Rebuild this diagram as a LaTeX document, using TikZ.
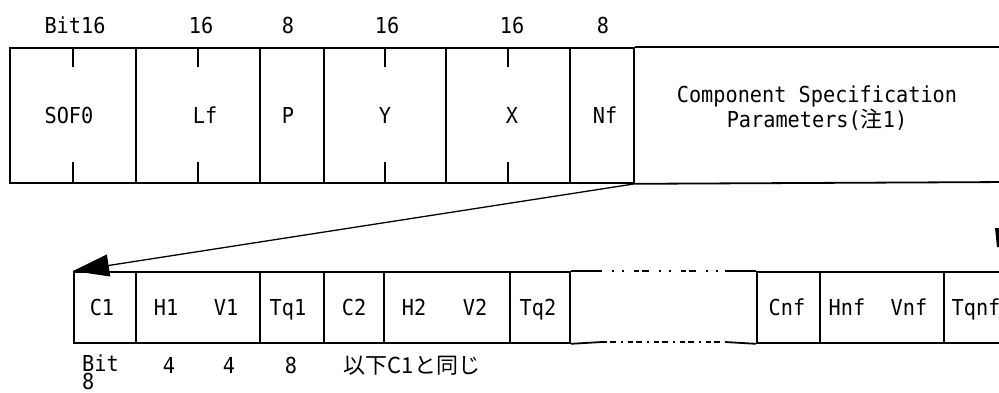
\documentclass[tikz,border=0pt]{standalone}
\usepackage{fontspec}
\setmainfont{DejaVu Sans Mono}[FakeStretch=0.92]
\newfontfamily\jp{Noto Sans CJK JP}
\usetikzlibrary{arrows.meta}
\tikzset{
  rowline/.style={line width=1.8pt},
  topcell/.style={draw, line width=1.8pt, anchor=north west, minimum height=135pt},
  botcell/.style={draw, line width=1.8pt, anchor=north west, minimum height=71pt},
  lbl/.style={anchor=base},
  dashA/.style={line width=1.6pt, dash pattern=on 2pt off 8pt on 2pt off 10pt on 5pt off 3pt on 7pt off 10pt, dash phase=37pt},
  dashB/.style={line width=1.6pt, dash pattern=on 5pt off 3pt on 6pt off 5pt on 2pt off 5pt, dash phase=0pt},
}
\begin{document}
\begin{tikzpicture}[x=1pt,y=-1pt, every node/.style={font=\fontsize{22}{22}\selectfont, inner sep=0pt}]
\useasboundingbox (0,0) rectangle (999,392);
\clip (0,0) rectangle (999,392);

% ---------- top row ----------
\node[topcell, minimum width=126pt] (sof) at (9,47) {};
\node[topcell, minimum width=124pt] (lf)  at (135,47) {};
\node[topcell, minimum width=64pt]  (p)   at (259,47) {};
\node[topcell, minimum width=122pt] (yy)  at (323,47) {};
\node[topcell, minimum width=124pt] (xx)  at (445,47) {};
\node[topcell, minimum width=64pt]  (nf)  at (569,47) {};
\coordinate (topR) at (1010,47);
\coordinate (topRb) at (1010,182);
\draw[rowline] (nf.north east) -- (topR);
\draw[rowline] (nf.south east) -- (topRb);
\foreach \n in {sof,lf,yy,xx} {
  \draw[rowline] (\n.north) -- ++(0,20);
  \draw[rowline] (\n.south) -- ++(0,-22);
}

% bit widths (top)
\node[lbl] (b1) at (75,33)  {Bit16};
\node[lbl] (b2) at (201,33) {16};
\node[lbl] (b3) at (288,33) {8};
\node[lbl] (b4) at (387,33) {16};
\node[lbl] (b5) at (512,33) {16};
\node[lbl] (b6) at (603,33) {8};

% field names (top)
\node[lbl] (tsof) at (69,123)  {SOF0};
\node[lbl] (tlf)  at (205,123) {Lf};
\node[lbl] (tp)   at (288,123) {P};
\node[lbl] (ty)   at (385,123) {Y};
\node[lbl] (tx)   at (512,123) {X};
\node[lbl] (tnf)  at (605,123) {Nf};
\node[anchor=north, align=center] (csp) at (817,86) {Component Specification\\Parameters({\jp 注}1)};

% ---------- bottom row ----------
\node[botcell, minimum width=62pt]  (c1)  at (73,271) {};
\node[botcell, minimum width=124pt] (hv1) at (135,271) {};
\node[botcell, minimum width=64pt]  (tq1) at (259,271) {};
\node[botcell, minimum width=60pt]  (c2)  at (323,271) {};
\node[botcell, minimum width=126pt] (hv2) at (383,271) {};
\node[botcell, minimum width=60pt]  (tq2) at (509,271) {};
\node[botcell, minimum width=63pt]  (cnf) at (756,271) {};
\node[botcell, minimum width=124pt] (hvn) at (819,271) {};
\node[botcell, minimum width=70pt]  (tqn) at (943,271) {};

\coordinate (d1) at (602,271);
\coordinate (d2) at (725,271);
\coordinate (d3) at (602,342);
\coordinate (d4) at (725,342);
\draw[rowline] (tq2.north east) -- (d1);
\draw[rowline] (tq2.south east) -- (d3);
\draw[dashA] (d1) -- (d2);
\draw[dashB] (d3) -- (d4);
\draw[rowline] (d2) -- (cnf.north west);
\draw[rowline] (d4) -- (cnf.south west);

% field names (bottom)
\node[lbl] (tc1)  at (102,315) {C1};
\node[lbl] (th1)  at (166,315) {H1};
\node[lbl] (tv1)  at (226,315) {V1};
\node[lbl] (ttq1) at (288,315) {Tq1};
\node[lbl] (tc2)  at (354,315) {C2};
\node[lbl] (th2)  at (414,315) {H2};
\node[lbl] (tv2)  at (475,315) {V2};
\node[lbl] (ttq2) at (538,315) {Tq2};
\node[lbl] (tcn)  at (787,315) {Cnf};
\node[lbl] (thn)  at (847,315) {Hnf};
\node[lbl] (tvn)  at (909,315) {Vnf};
\node[lbl] (ttqn) at (976,315) {Tqnf};

% bit widths (bottom)
\node[anchor=north west, align=left, font=\fontsize{22}{18}\selectfont] (bb0) at (82,355) {Bit\\8};
\node[lbl] (bb1) at (169,373) {4};
\node[lbl] (bb2) at (229,373) {4};
\node[lbl] (bb3) at (291,373) {8};
\node[lbl, font=\jp\fontsize{22}{22}\selectfont] (same) at (412,373) {以下C1と同じ};

% connector
\draw[line width=1.3pt, -{Triangle[length=36pt, width=22pt]}] (nf.south east) -- (c1.north west);

% cut-off arrowhead at the right edge
\fill (995,228) -- (1001,228) -- (1001,247) -- (997,247) -- cycle;
\end{tikzpicture}
\end{document}
